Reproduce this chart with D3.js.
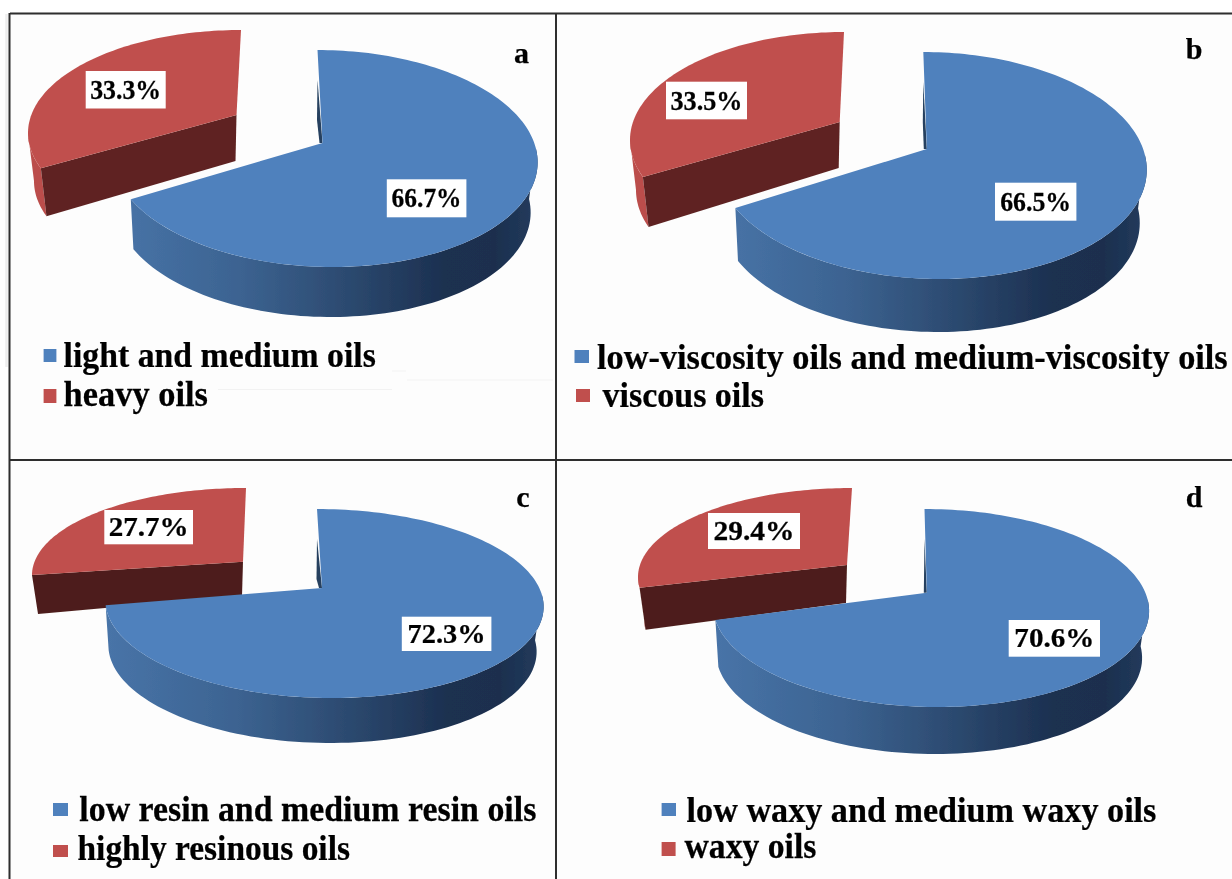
<!DOCTYPE html>
<html>
<head>
<meta charset="utf-8">
<script src="https://cdn.jsdelivr.net/npm/d3@7/dist/d3.min.js"></script>
<style>
html,body{margin:0;padding:0;background:#fff;overflow:hidden}
svg{display:block}
text{font-family:"Liberation Serif","Times New Roman",serif;font-weight:bold;fill:#050505;stroke:#050505;stroke-width:0.25px}
</style>
</head>
<body>
<svg id="chart" width="1232" height="879"></svg>
<script>
// ---- data ----
const panelLetters = ["a","b","c","d"];
const majorShares  = [66.7,66.5,72.3,70.6];
const minorShares  = [33.3,33.5,27.7,29.4];
const majorNames = ["light and medium oils","low-viscosity oils and medium-viscosity oils","low resin and medium resin oils","low waxy and medium waxy oils"];
const minorNames = ["heavy oils","viscous oils","highly resinous oils","waxy oils"];
const fmt = v => v.toFixed(1)+"%";

// ---- layout (geometry of each tilted pie, labels and legend) ----
const deg = Math.PI/180;
const majorGeom = [
 {cx:325,  cy:158.5,rx:212.5,ry:108.5,shear:7.5,apex:[322.5,143],  depth:50,end:248},
 {cx:931.6,cy:165.5,rx:215,  ry:113.5,shear:8.3,apex:[926.8,149],  depth:53,end:248},
 {cx:324.5,cy:603.5,rx:219,  ry:94.5, shear:7.5,apex:[322,588],    depth:45,end:269},
 {cx:931,  cy:608,  rx:218,  ry:99,   shear:6.5,apex:[926.8,592.7],depth:47,end:263}
];
const minorGeom = [
 {cx:241,cy:133,rx:213,ry:103,apex:[236.5,115],  depth:48,apexDepth:46,start:250},
 {cx:844,cy:140,rx:214,ry:108,apex:[839.7,122],  depth:50,apexDepth:46,start:250},
 {cx:246,cy:575,rx:214,ry:87, apex:[243,561.7],  depth:39,apexDepth:34,start:270},
 {cx:852,cy:577,rx:214,ry:89, apex:[847,565],    depth:42,apexDepth:38,start:263}
];
const majorBox = [[386.8,179.3,79.6,38,70],[995,182.7,81.4,38,71],[401.8,616.7,89.6,34.3,78],[1008.7,620,91.3,36.7,80]];
const minorBox = [[85.7,71,80,37.5,71],[666,81.7,81,37.6,72],[104.3,510,88.7,34.3,80],[708,513,92,36,81]];
const letterPos = [[521.4,62.7],[1194,58.7],[523,506.7],[1194,507]];
const majorLegend = [[43.6,349,12.8,13,63.6,376,367],[574.5,350,14.5,13,597,1228,368.6],[53,803,15,13,79.3,536.4,821.3],[661.6,803,14.4,13,686.6,1156.6,822]];
const minorLegend = [[43.6,389,12.8,14,63.6,208,406],[576,389,14,13,602.6,764,407.3],[53,845,15,12,77.5,350,860.3],[661.6,842,14,14,684.5,816.4,858.3]];
const flatDark = ["#5e2422","#5e2422","#4e1f1b","#4e1f1b"];
const frameLines = [[10,13.5,1232,13.5],[10,460,1232,460],[9.5,13,9.5,879],[556,13,556,879]];
const ghostLines = [[6.5,14,6.5,367,"#eeeeee",2.5],[218,389.5,392,389.5,"#f2f2f2",1],[392,371,406,371,"#f3f3f3",1],[407,380,553,380,"#f3f3f3",1]];

const svg = d3.select("#chart");
const defs = svg.append("defs");
svg.append("rect").attr("width",1232).attr("height",879).attr("fill","#ffffff");
svg.append("rect").attr("x",10).attr("y",13).attr("width",1222).attr("height",866).attr("fill","#fdfdfd");

const root = svg.append("g");
defs.append("filter").attr("id","soft").attr("x","-5%").attr("y","-5%").attr("width","110%").attr("height","110%")
  .append("feGaussianBlur").attr("stdDeviation",0.45);
root.attr("filter","url(#soft)");

ghostLines.forEach(l=>root.append("line").attr("x1",l[0]).attr("y1",l[1]).attr("x2",l[2]).attr("y2",l[3]).attr("stroke",l[4]).attr("stroke-width",l[5]));

const pie = d3.pie().sort(null).startAngle(0).endAngle(2*Math.PI);
const line = d3.line();

// point on the tilted rim; t is clockwise from 12 o'clock
const rim = (g,t,dx=0,dy=0,drx=0) => [
  g.cx+dx+(g.rx-drx)*Math.sin(t)-(g.shear||0)*Math.cos(t),
  g.cy+dy-g.ry*Math.cos(t)
];
const samples = (a,b,n=90) => d3.range(n+1).map(i=>a+(b-a)*i/n);

// real text, squeezed horizontally to the reference's measured width
function fitText(parent,str,x0,x1,base,size){
  const t = parent.append("text").attr("font-size",size).text(str);
  const natural = t.node().getComputedTextLength();
  t.attr("transform",`translate(${x0},${base}) scale(${(x1-x0)/natural},1)`);
  return t;
}

panelLetters.forEach((letter,i)=>{
  const arcs = pie([majorShares[i],minorShares[i]]);
  const M = majorGeom[i], R = minorGeom[i];
  const gId = "wall"+i;
  const lg = defs.append("linearGradient").attr("id",gId).attr("gradientUnits","userSpaceOnUse")
    .attr("x1",M.cx-M.rx).attr("x2",M.cx+M.rx).attr("y1",0).attr("y2",0);
  [[0,"#4874a8"],[0.3,"#3c6391"],[0.55,"#2c4a70"],[0.78,"#1c3050"],[0.9,"#1b2f4e"],[1,"#233c5e"]]
    .forEach(s=>lg.append("stop").attr("offset",s[0]).attr("stop-color",s[1]));

  const g = root.append("g").attr("class","panel-"+letter);

  // minor slice: angle scale maps pie angles to the foreshortened view
  const minorAngle = d3.scaleLinear().domain([arcs[1].startAngle,arcs[1].endAngle]).range([R.start*deg,2*Math.PI]);
  const rStart = minorAngle(arcs[1].startAngle), rEnd = minorAngle(arcs[1].endAngle);
  const endTop = rim(R,rStart), endBot = rim(R,rStart,0,R.depth,6);
  const apexBot = [R.apex[0]-1,R.apex[1]+R.apexDepth];
  if(R.start<270){
    const ts = samples(270*deg,rStart,24);
    const top = ts.map(t=>rim(R,t)), bot = ts.map(t=>rim(R,t,0,R.depth,6)).reverse();
    g.append("path").attr("d",line(top.concat(bot))+"Z").attr("fill","#bb4e4b");
  }
  g.append("path").attr("d",line([R.apex,endTop,endBot,apexBot])+"Z").attr("fill",flatDark[i]);
  g.append("path").attr("d",line([R.apex].concat(samples(rStart,rEnd).map(t=>rim(R,t))))+"Z").attr("fill","#c0504d");

  // major slice
  const majorAngle = d3.scaleLinear().domain([arcs[0].startAngle,arcs[0].endAngle]).range([0,M.end*deg]);
  const mEnd = majorAngle(arcs[0].endAngle);
  const ts = samples(85*deg,mEnd);
  const wallTop = ts.map(t=>rim(M,t));
  const wallBot = ts.map(t=>rim(M,t,-2,M.depth,5)).reverse();
  g.append("path").attr("d",line(wallTop.concat(wallBot))+"Z").attr("fill",`url(#${gId})`);
  const mTop = rim(M,0);
  g.append("path").attr("d",line([[mTop[0],mTop[1]+30],M.apex,[M.apex[0]-3,M.apex[1]],[mTop[0]-0.5,mTop[1]+70]])+"Z").attr("fill","#25405f");
  g.append("path").attr("d",line([M.apex].concat(samples(0,mEnd,180).map(t=>rim(M,t))))+"Z").attr("fill","#4f81bd");

  // value labels
  [[majorBox[i],majorShares[i]],[minorBox[i],minorShares[i]]].forEach(([b,v])=>{
    g.append("rect").attr("x",b[0]).attr("y",b[1]).attr("width",b[2]).attr("height",b[3]).attr("fill","#ffffff");
    fitText(g,fmt(v),b[0]+b[2]/2-b[4]/2,b[0]+b[2]/2+b[4]/2,b[1]+b[3]/2+9,27);
  });

  // panel letter
  g.append("text").attr("x",letterPos[i][0]).attr("y",letterPos[i][1]).attr("text-anchor","middle")
    .attr("font-size",30).text(letter);

  // legend
  [[majorLegend[i],majorNames[i],"#4f81bd"],[minorLegend[i],minorNames[i],"#c0504d"]].forEach(([l,name,c])=>{
    g.append("rect").attr("x",l[0]).attr("y",l[1]).attr("width",l[2]).attr("height",l[3]).attr("fill",c);
    fitText(g,name,l[4],l[5],l[6],35);
  });
});

frameLines.forEach(l=>root.append("line").attr("x1",l[0]).attr("y1",l[1]).attr("x2",l[2]).attr("y2",l[3]).attr("stroke","#2e2e2e").attr("stroke-width",2));
</script>
</body>
</html>
